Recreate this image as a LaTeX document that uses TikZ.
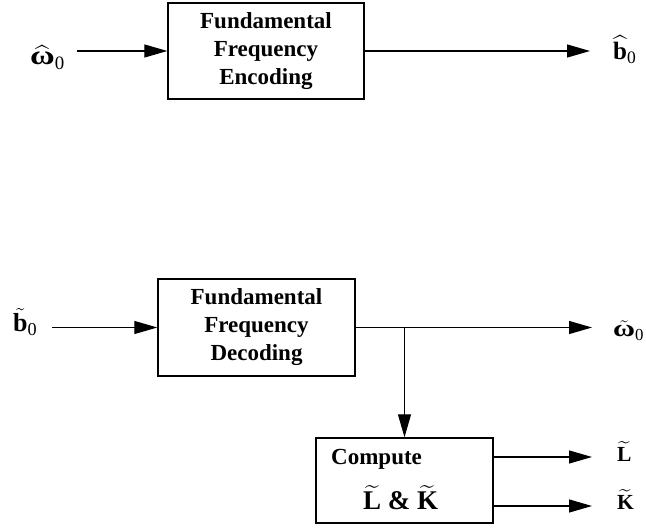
\RequirePackage{fix-cm}
\documentclass[tikz,border=0pt]{standalone}
\usepackage{amsmath}
\usepackage{fontspec}
\setmainfont{Liberation Serif}
\usetikzlibrary{arrows.meta}

\tikzset{
  blk/.style={draw, line width=1.4pt, inner sep=0pt, align=center,
    font=\fontsize{23}{28}\selectfont\bfseries},
  sym/.style={inner sep=0pt, anchor=base west},
  arr/.style={line width=1.2pt, -{Triangle[length=23pt,width=13pt]}},
  txt/.style={inner sep=0pt, anchor=base west, font=\bfseries}
}
\newcommand{\symsize}[1]{\fontsize{#1}{#1}\selectfont}
\newcommand{\wideomega}{\scalebox{1.25}[1]{\textbf{ω}}}

\begin{document}
\begin{tikzpicture}[x=1pt,y=-1pt]
\useasboundingbox (0,0) rectangle (646,529);

% encoder
\node[blk, minimum width=196pt, minimum height=96pt] (enc) at (266,51)
  {Fundamental\\Frequency\\Encoding};
\node[sym, font=\symsize{27}] (win) at (30,65)
  {$\widehat{\text{\wideomega}}_{\textnormal{0}}$};
\node[sym, font=\symsize{25}] (bout) at (613,60)
  {$\widehat{\textbf{b}}_{\textnormal{0}}$};
\draw[arr] ([xshift=12pt]win.east |- enc.west) -- (enc.west);
\draw[arr, shorten >=23pt] (enc.east) -- (enc.east -| bout.west);

% decoder
\node[blk, minimum width=197pt, minimum height=97pt] (dec) at (256.5,327.5)
  {Fundamental\\Frequency\\Decoding};
\node[sym, font=\symsize{26}] (bin) at (13,332)
  {$\tilde{\textbf{b}}_{\textnormal{0}}$};
\node[sym, font=\symsize{24}] (wout) at (613,337)
  {$\tilde{\text{\wideomega}}_{\textnormal{0}}$};
\draw[arr] ([xshift=15pt]bin.east |- dec.west) -- (dec.west);
\draw[arr, shorten >=21pt] (dec.east) -- (dec.east -| wout.west);

% harmonic parameters
\node[draw, line width=1.4pt, minimum width=177pt, minimum height=85pt] (cmp) at (404.5,480.5) {};
\node[txt, font=\fontsize{23}{28}\selectfont\bfseries] (cmptxt) at (331,465) {Compute};
\node[txt, font=\fontsize{27}{30}\selectfont\bfseries] (cmplk) at (363,510)
  {$\widetilde{\textbf{L}}$ \& $\widetilde{\textbf{K}}$};
\draw[arr] (cmp.north |- dec.east) -- (cmp.north);

\node[sym, font=\symsize{21.5}\bfseries] (lout) at (617,462) {$\widetilde{\textbf{L}}$};
\node[sym, font=\symsize{21.5}\bfseries] (kout) at (617,510) {$\widetilde{\textbf{K}}$};
\draw[arr, shorten >=25pt] ([yshift=23.5pt]cmp.east) -- ([yshift=23.5pt]cmp.east -| lout.west);
\draw[arr, shorten >=25pt] ([yshift=-25.5pt]cmp.east) -- ([yshift=-25.5pt]cmp.east -| kout.west);
\end{tikzpicture}
\end{document}
